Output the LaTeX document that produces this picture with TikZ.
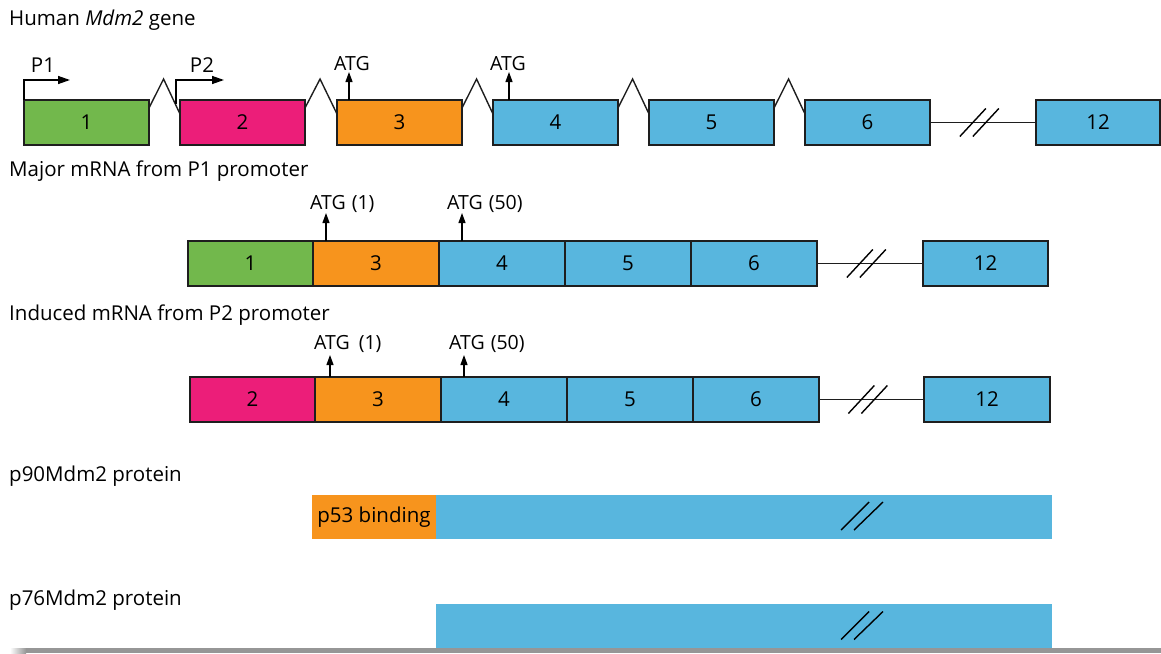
\documentclass[tikz,border=0pt]{standalone}
\usepackage{fontspec}
\setmainfont{Open Sans}
\usetikzlibrary{arrows.meta,calc}
\definecolor{exgreen}{RGB}{114,184,76}
\definecolor{expink}{RGB}{236,30,121}
\definecolor{exorange}{RGB}{247,148,29}
\definecolor{exblue}{RGB}{88,182,222}
\definecolor{edgec}{RGB}{30,30,30}
\definecolor{shadowc}{RGB}{150,150,150}
\newcommand{\bigfont}{\fontsize{20.5}{24}\selectfont}
\newcommand{\smallfont}{\fontsize{19.5}{23}\selectfont}
\begin{document}
\begin{tikzpicture}[x=1pt,y=-1pt,
  exon/.style={draw=edgec, line width=1.6pt, anchor=north west, minimum width=125pt,
    minimum height=45pt, inner sep=0pt, outer sep=0pt, font=\bigfont},
  intron/.style={draw=edgec, line width=1.4pt, line join=miter},
  link/.style={draw=edgec, line width=1.4pt},
  slash/.style={draw=black, line width=1.4pt},
  prom/.style={draw=black, line width=1.4pt, -{Triangle[length=12pt,width=8pt]}},
  atg/.style={draw=black, line width=1.2pt, -{Triangle[length=10pt,width=7pt]}},
  title/.style={anchor=base west, inner sep=0pt, font=\bigfont},
  lab/.style={inner sep=0pt, font=\smallfont},
  plab/.style={inner sep=0pt, font=\bigfont, anchor=base},
  bar/.style={draw=none, anchor=north west, inner sep=0pt, outer sep=0pt, minimum height=44pt}
]
\useasboundingbox (0,0) rectangle (1161,653);

% ---------- Row 1: gene ----------
\node[title] (h1) at (9,25) {Human \textit{Mdm2} gene};
\node[exon, fill=exgreen]  (e1)  at (24,100)  {1};
\node[exon, fill=expink]   (e2)  at (180,100) {2};
\node[exon, fill=exorange] (e3)  at (337,100) {3};
\node[exon, fill=exblue]   (e4)  at (493,100) {4};
\node[exon, fill=exblue]   (e5)  at (649,100) {5};
\node[exon, fill=exblue]   (e6)  at (805,100) {6};
\node[exon, fill=exblue, minimum width=124pt] (e12) at (1036,100) {12};

\foreach \a/\b in {e1/e2, e2/e3, e3/e4, e4/e5, e5/e6}{
  \draw[intron] ($(\a.north east)+(0,8)$) -- ($(\a.north east)!0.47!(\b.north west)+(0,-21)$) -- ($(\b.north west)+(0,14)$);
}
\draw[link] (e6.east) -- (e12.west);
\coordinate (s1) at ($(e6.east)!0.47!(e12.west)$);
\draw[slash] ($(s1)+(-20,14)$) -- ($(s1)+(6,-14)$);
\draw[slash] ($(s1)+(-7,14)$) -- ($(s1)+(19,-14)$);

% promoters
\coordinate (p1t) at (70,80);
\draw[prom] (e1.north west) |- (p1t);
\node[plab] (p1l) at (43,72) {P1};
\coordinate (p2b) at (176,104);
\coordinate (p2t) at (224,80);
\draw[prom] (p2b) |- (p2t);
\node[plab] (p2l) at (202,72) {P2};

% ATGs
\coordinate (g1) at (349,72);
\draw[atg] (e3.north west -| g1) -- (g1);
\node[lab, anchor=base] (g1l) at (352,70) {ATG};
\coordinate (g2) at (509,72);
\draw[atg] (e4.north west -| g2) -- (g2);
\node[lab, anchor=base] (g2l) at (508,70) {ATG};

% ---------- Row 2: major mRNA ----------
\node[title] (h2) at (9,176) {Major mRNA from P1 promoter};
\node[exon, fill=exgreen]  (m1)  at (188,241) {1};
\node[exon, fill=exorange, minimum width=126pt] (m3)  at (313,241) {3};
\node[exon, fill=exblue, minimum width=126pt]   (m4)  at (439,241) {4};
\node[exon, fill=exblue, minimum width=126pt]   (m5)  at (565,241) {5};
\node[exon, fill=exblue, minimum width=126pt]   (m6)  at (691,241) {6};
\node[exon, fill=exblue]   (m12) at (923,241) {12};
\draw[link] (m6.east) -- (m12.west);
\coordinate (s2) at ($(m6.east)!0.47!(m12.west)$);
\draw[slash] ($(s2)+(-20,14)$) -- ($(s2)+(6,-14)$);
\draw[slash] ($(s2)+(-7,14)$) -- ($(s2)+(19,-14)$);

\coordinate (a1) at (326,213);
\draw[atg] (m3.north west -| a1) -- (a1);
\node[lab, anchor=base west] (a1l) at (310,209) {ATG\hspace{6pt}(1)};
\coordinate (a2) at (462,213);
\draw[atg] (m4.north west -| a2) -- (a2);
\node[lab, anchor=base west] (a2l) at (447,209) {ATG\hspace{6pt}(50)};

% ---------- Row 3: induced mRNA ----------
\node[title] (h3) at (9,320) {Induced mRNA from P2 promoter};
\node[exon, fill=expink]   (i2)  at (190,377) {2};
\node[exon, fill=exorange, minimum width=126pt] (i3)  at (315,377) {3};
\node[exon, fill=exblue, minimum width=126pt]   (i4)  at (441,377) {4};
\node[exon, fill=exblue, minimum width=126pt]   (i5)  at (567,377) {5};
\node[exon, fill=exblue, minimum width=126pt]   (i6)  at (693,377) {6};
\node[exon, fill=exblue, minimum width=126pt]   (i12) at (924,377) {12};
\draw[link] (i6.east) -- (i12.west);
\coordinate (s3) at ($(i6.east)!0.47!(i12.west)$);
\draw[slash] ($(s3)+(-20,14)$) -- ($(s3)+(6,-14)$);
\draw[slash] ($(s3)+(-7,14)$) -- ($(s3)+(19,-14)$);

\coordinate (b1) at (330,355);
\draw[atg] (i3.north west -| b1) -- (b1);
\node[lab, anchor=base west] (b1l) at (314,349) {ATG\hspace{9pt}(1)};
\coordinate (b2) at (464,355);
\draw[atg] (i4.north west -| b2) -- (b2);
\node[lab, anchor=base west] (b2l) at (449,349) {ATG\hspace{6pt}(50)};

% ---------- Proteins ----------
\node[title] (h4) at (9,481) {p90Mdm2 protein};
\node[bar, fill=exorange, minimum width=124pt] (q1) at (312,495) {};
\node[bar, fill=exblue, minimum width=616pt] (q2) at (436,495) {};
\node[inner sep=0pt, font=\bigfont, anchor=center] (q1l) at (q1.center) {p53 binding};
\coordinate (s4) at (862,516);
\draw[slash] ($(s4)+(-21,14)$) -- ($(s4)+(7,-14)$);
\draw[slash] ($(s4)+(-8,14)$) -- ($(s4)+(21,-14)$);

\node[title] (h5) at (9,605) {p76Mdm2 protein};
\node[bar, fill=exblue, minimum width=616pt] (r2) at (436,604) {};
\coordinate (s5) at (862,625.5);
\draw[slash] ($(s5)+(-21,14)$) -- ($(s5)+(7,-14)$);
\draw[slash] ($(s5)+(-8,14)$) -- ($(s5)+(21,-14)$);

% bottom shadow
\shade[left color=white, right color=shadowc] (10,648) rectangle (26,653);
\fill[shadowc] (26,648) rectangle (1161,653);
\end{tikzpicture}
\end{document}
